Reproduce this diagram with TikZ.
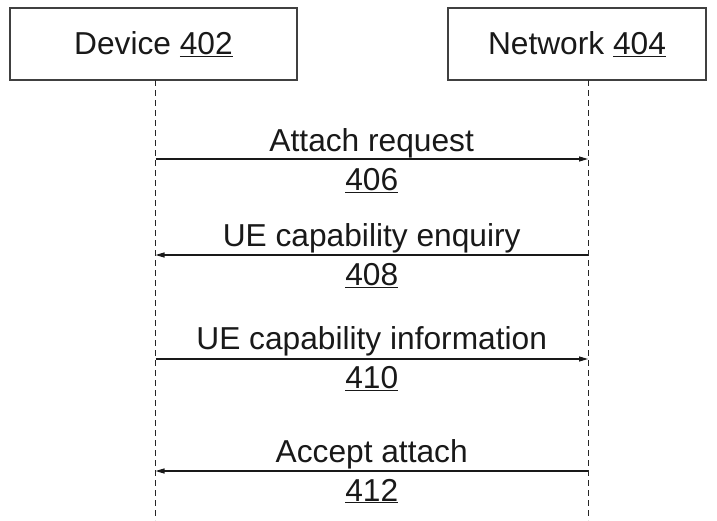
\documentclass[tikz,border=0pt]{standalone}
\usepackage{fontspec}
\setmainfont{Liberation Sans}
\usetikzlibrary{arrows.meta}
\tikzset{
  box/.style={draw=black!75, line width=1.3pt, fill=white, minimum height=72pt, inner sep=0pt, text=black!90, font=\fontsize{31.7}{36}\selectfont},
  life/.style={draw=black!85, line width=1pt, dash pattern=on 6pt off 4pt},
  msg/.style={draw=black!90, line width=1.1pt, -{Triangle[length=9pt,width=5pt]}},
  lbl/.style={anchor=base, inner sep=0pt, text=black!90, font=\fontsize{31.7}{36}\selectfont},
}
\begin{document}
\begin{tikzpicture}[x=1pt,y=-1pt]
\useasboundingbox (0,0) rectangle (717,520);
\node[box, minimum width=287pt] (dev) at (153.5,44) {Device \underline{402}};
\node[box, minimum width=258pt] (net) at (577,44) {Network \underline{404}};
% lifeline points
\coordinate (dt) at (155.5,80);
\coordinate (db) at (155.5,520);
\coordinate (nt) at (588,80);
\coordinate (nb) at (588,520);
\draw[life] (dt) -- (db);
\draw[life] (nt) -- (nb);
% message levels
\coordinate (d1) at (155.5,159); \coordinate (n1) at (588,159);
\coordinate (d2) at (155.5,255); \coordinate (n2) at (588,255);
\coordinate (d3) at (155.5,359); \coordinate (n3) at (588,359);
\coordinate (d4) at (155.5,471); \coordinate (n4) at (588,471);
\draw[msg] (d1) -- (n1);
\draw[msg] (n2) -- (d2);
\draw[msg] (d3) -- (n3);
\draw[msg] (n4) -- (d4);
\node[lbl] (t1) at (371.7,151) {Attach request};
\node[lbl] (m1) at (371.7,190) {\underline{406}};
\node[lbl] (t2) at (371.7,246) {UE capability enquiry};
\node[lbl] (m2) at (371.7,285) {\underline{408}};
\node[lbl] (t3) at (371.7,349) {UE capability information};
\node[lbl] (m3) at (371.7,388) {\underline{410}};
\node[lbl] (t4) at (371.7,462) {Accept attach};
\node[lbl] (m4) at (371.7,501) {\underline{412}};
\end{tikzpicture}
\end{document}
